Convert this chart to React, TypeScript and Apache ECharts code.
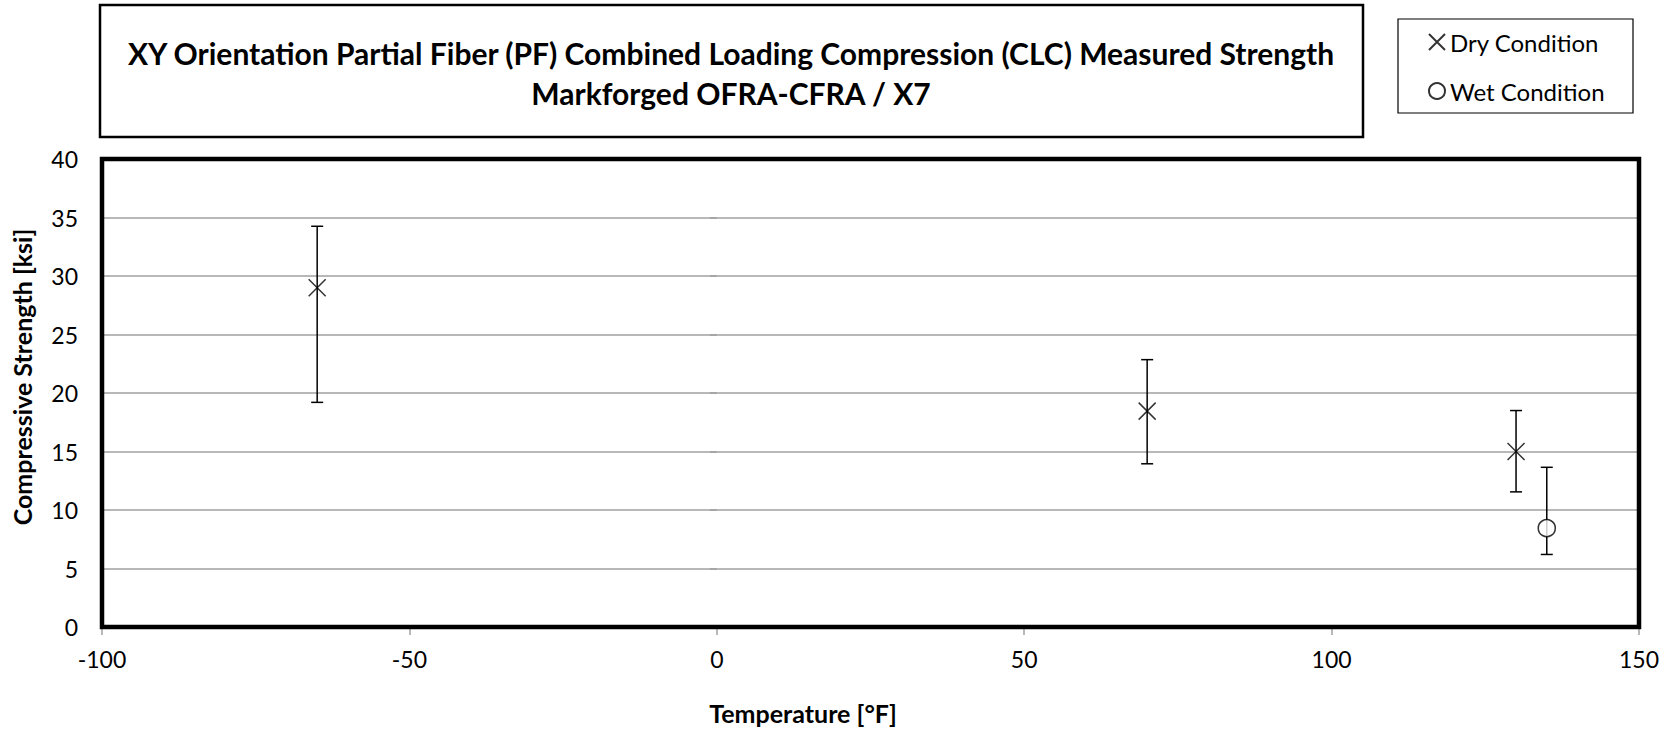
import React, { useEffect, useRef } from "react";
import * as echarts from "echarts";

const FONT = "Lato, 'Open Sans', sans-serif";

const titleLines = [
  "XY Orientation Partial Fiber (PF) Combined Loading Compression (CLC) Measured Strength",
  "Markforged OFRA-CFRA / X7",
];
const xAxisTitle = "Temperature [°F]";
const yAxisTitle = "Compressive Strength [ksi]";
const seriesNames = ["Dry Condition", "Wet Condition"];

const xMin = -100;
const xMax = 150;
const xStep = 50;
const yMin = 0;
const yMax = 40;
const yStep = 5;

const dryTemps = [-65, 70, 130];
const dryMean = [29.0, 18.45, 15.0];
const dryLow = [19.2, 13.95, 11.55];
const dryHigh = [34.25, 22.85, 18.5];

const wetTemps = [135];
const wetMean = [8.45];
const wetLow = [6.2];
const wetHigh = [13.65];

const X_PATH = "path://M0,0L10,10M10,0L0,10";

function errorRender(params: any, api: any) {
  const x = api.value(0);
  const lo = api.value(1);
  const hi = api.value(2);
  const pLo = api.coord([x, lo]);
  const pHi = api.coord([x, hi]);
  const hw = 6;
  const style = { stroke: "#000", lineWidth: 1.5, fill: "none" };
  return {
    type: "group",
    children: [
      { type: "line", shape: { x1: pLo[0], y1: pLo[1], x2: pHi[0], y2: pHi[1] }, style },
      { type: "line", shape: { x1: pLo[0] - hw, y1: pLo[1], x2: pLo[0] + hw, y2: pLo[1] }, style },
      { type: "line", shape: { x1: pHi[0] - hw, y1: pHi[1], x2: pHi[0] + hw, y2: pHi[1] }, style },
    ],
  };
}

export default function App() {
  const ref = useRef<HTMLDivElement>(null);
  useEffect(() => {
    if (!ref.current) return;
    const chart = echarts.init(ref.current, undefined, { renderer: "svg" });
    const dryData = dryTemps.map((t, i) => [t, dryMean[i]]);
    const wetData = wetTemps.map((t, i) => [t, wetMean[i]]);
    const dryErr = dryTemps.map((t, i) => [t, dryLow[i], dryHigh[i]]);
    const wetErr = wetTemps.map((t, i) => [t, wetLow[i], wetHigh[i]]);
    const gridL = 102, gridT = 159, gridR = 34, gridB = 106;
    const W = 1673, H = 733;
    chart.setOption({
      animation: false,
      backgroundColor: "#fff",
      grid: { left: gridL, top: gridT, right: gridR, bottom: gridB },
      xAxis: {
        type: "value",
        min: xMin,
        max: xMax,
        interval: xStep,
        axisLine: { show: false },
        axisTick: { show: true, length: 8, lineStyle: { color: "#a0a0a0", width: 1.5 } },
        axisLabel: { fontFamily: FONT, fontSize: 23, color: "#000", margin: 20 },
        splitLine: { show: false },
      },
      yAxis: {
        type: "value",
        min: yMin,
        max: yMax,
        interval: yStep,
        axisLine: { show: false },
        axisTick: { show: true, length: 7, lineStyle: { color: "#a0a0a0", width: 1.5 } },
        axisLabel: { fontFamily: FONT, fontSize: 23, color: "#000", margin: 24 },
        splitLine: { show: true, lineStyle: { color: "#a0a0a0", width: 1.5 } },
      },
      legend: {
        orient: "vertical",
        left: 1423,
        top: 25,
        itemWidth: 16,
        itemHeight: 16,
        itemGap: 25,
        selectedMode: false,
        data: seriesNames,
        textStyle: { fontFamily: FONT, fontSize: 24, color: "#000", lineHeight: 24 },
      },
      graphic: [
        {
          type: "rect",
          shape: { x: 100, y: 5, width: 1263, height: 132 },
          style: { fill: "none", stroke: "#000", lineWidth: 2.5 },
        },
        {
          type: "text",
          x: 731,
          y: 53,
          style: {
            text: titleLines[0],
            font: `bold 30px ${FONT}`,
            fill: "#000",
            textAlign: "center",
            textVerticalAlign: "middle",
          },
        },
        {
          type: "text",
          x: 731,
          y: 93,
          style: {
            text: titleLines[1],
            font: `bold 30px ${FONT}`,
            fill: "#000",
            textAlign: "center",
            textVerticalAlign: "middle",
          },
        },
        {
          type: "rect",
          shape: { x: 1398, y: 19, width: 235, height: 94 },
          style: { fill: "none", stroke: "#000", lineWidth: 1.2 },
        },
        {
          type: "rect",
          z: 10,
          shape: { x: gridL, y: gridT, width: W - gridL - gridR, height: H - gridT - gridB },
          style: { fill: "none", stroke: "#000", lineWidth: 4.5 },
        },
        {
          type: "text",
          x: 803,
          y: 713,
          style: {
            text: xAxisTitle,
            font: `bold 25px ${FONT}`,
            fill: "#000",
            textAlign: "center",
            textVerticalAlign: "middle",
          },
        },
        {
          type: "text",
          x: 22,
          y: 377,
          rotation: Math.PI / 2,
          style: {
            text: yAxisTitle,
            font: `bold 25px ${FONT}`,
            fill: "#000",
            textAlign: "center",
            textVerticalAlign: "middle",
          },
        },
      ],
      series: [
        {
          type: "custom",
          name: "dryErr",
          renderItem: errorRender,
          encode: { x: 0, y: [1, 2] },
          data: dryErr,
          z: 2,
        },
        {
          type: "custom",
          name: "wetErr",
          renderItem: errorRender,
          encode: { x: 0, y: [1, 2] },
          data: wetErr,
          z: 2,
        },
        {
          type: "scatter",
          name: seriesNames[0],
          symbol: X_PATH,
          symbolSize: 17,
          data: dryData,
          z: 3,
          itemStyle: { color: "rgba(0,0,0,0)", borderColor: "#000", borderWidth: 1.5 },
        },
        {
          type: "scatter",
          name: seriesNames[1],
          symbol: "circle",
          symbolSize: 17,
          data: wetData,
          z: 3,
          itemStyle: { color: "#fff", borderColor: "#000", borderWidth: 1.5 },
        },
      ],
    });
    return () => chart.dispose();
  }, []);
  return (
    <div
      ref={ref}
      style={{ position: "fixed", left: 0, top: 0, width: 1673, height: 733 }}
    />
  );
}
